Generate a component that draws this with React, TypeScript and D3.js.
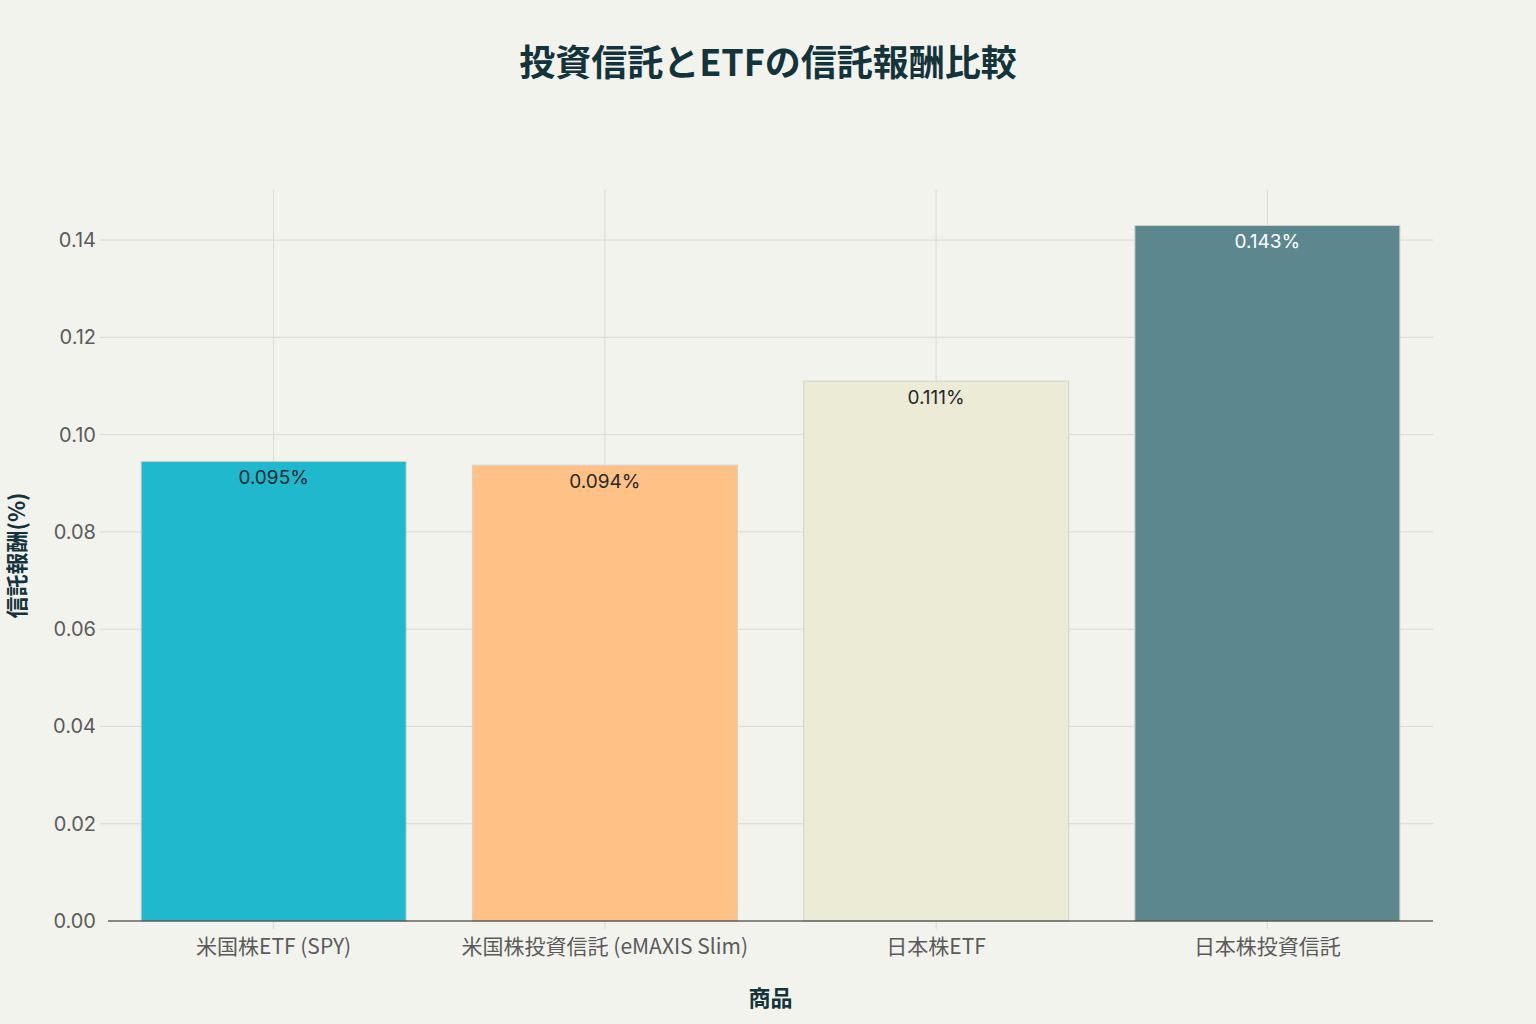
import React, { useEffect, useRef } from "react";
import * as d3 from "d3";

// chart data
const categories = [
  "米国株ETF (SPY)",
  "米国株投資信託 (eMAXIS Slim)",
  "日本株ETF",
  "日本株投資信託",
];
const fees = [0.0945, 0.09372, 0.111, 0.143];
const feeLabels = ["0.095%", "0.094%", "0.111%", "0.143%"];
const barColors = ["#1FB8CD", "#FFC185", "#ECEBD5", "#5D878F"];
const labelColors = ["#1f2a2c", "#1f2a2c", "#1f2a2c", "#ffffff"];
const yTicks = [0, 0.02, 0.04, 0.06, 0.08, 0.1, 0.12, 0.14];

const title = "投資信託とETFの信託報酬比較";
const xTitle = "商品";
const yTitle = "信託報酬(%)";

const dimensions = { width: 1536, height: 1024 };
const margin = { top: 190, right: 103, bottom: 103, left: 108 };

const App = () => {
  const ref = useRef<SVGSVGElement>(null);

  const graph = {
    width: dimensions.width - margin.left - margin.right,
    height: dimensions.height - margin.top - margin.bottom,
  };

  useEffect(() => {
    document.body.style.margin = "0";
    const svg = d3.select(ref.current);
    svg.selectAll("*").remove();

    // scales
    const x = d3
      .scaleBand<string>()
      .domain(categories)
      .range([0, graph.width])
      .paddingInner(0.2)
      .paddingOuter(0.1);
    const y = d3
      .scaleLinear()
      .domain([0, d3.max(fees) * 1.051])
      .range([graph.height, 0]);

    svg
      .append("rect")
      .attr("width", dimensions.width)
      .attr("height", dimensions.height)
      .attr("fill", "#F3F3EE");

    const g = svg
      .append("g")
      .attr("transform", `translate(${margin.left}, ${margin.top})`);

    // horizontal grid
    g.selectAll(".hgrid")
      .data(yTicks.filter((d) => d > 0))
      .enter()
      .append("line")
      .attr("x1", -8)
      .attr("x2", graph.width)
      .attr("y1", (d) => y(d))
      .attr("y2", (d) => y(d))
      .attr("stroke", "#D9D9D4")
      .attr("stroke-width", 1);

    // vertical grid
    g.selectAll(".vgrid")
      .data(categories)
      .enter()
      .append("line")
      .attr("x1", (d) => x(d) + x.bandwidth() / 2)
      .attr("x2", (d) => x(d) + x.bandwidth() / 2)
      .attr("y1", 0)
      .attr("y2", graph.height + 8)
      .attr("stroke", "#D9D9D4")
      .attr("stroke-width", 1);

    // bars
    g.selectAll(".bar")
      .data(categories)
      .enter()
      .append("rect")
      .attr("x", (d) => x(d))
      .attr("width", x.bandwidth())
      .attr("y", (d, i) => y(fees[i]))
      .attr("height", (d, i) => graph.height - y(fees[i]))
      .attr("fill", (d, i) => barColors[i])
      .attr("stroke", "#D2D2C8")
      .attr("stroke-width", 1);

    // bar labels
    g.selectAll(".label")
      .data(categories)
      .enter()
      .append("text")
      .attr("x", (d) => x(d) + x.bandwidth() / 2)
      .attr("y", (d, i) => y(fees[i]) + 23)
      .attr("text-anchor", "middle")
      .attr("font-family", "Inter, 'Noto Sans', sans-serif")
      .attr("font-size", 19)
      .attr("fill", (d, i) => labelColors[i])
      .text((d, i) => feeLabels[i]);

    // zero line
    g.append("line")
      .attr("x1", 0)
      .attr("x2", graph.width)
      .attr("y1", y(0))
      .attr("y2", y(0))
      .attr("stroke", "#1e1e1e")
      .attr("stroke-width", 1.2);

    // y tick labels
    g.selectAll(".ytick")
      .data(yTicks)
      .enter()
      .append("text")
      .attr("x", -12)
      .attr("y", (d) => y(d))
      .attr("dy", "0.35em")
      .attr("text-anchor", "end")
      .attr("font-family", "Inter, 'Noto Sans', sans-serif")
      .attr("font-size", 20)
      .attr("fill", "#5b5b5b")
      .text((d) => d3.format(".2f")(d));

    // x tick labels
    g.selectAll(".xtick")
      .data(categories)
      .enter()
      .append("text")
      .attr("x", (d) => x(d) + x.bandwidth() / 2)
      .attr("y", graph.height + 33)
      .attr("text-anchor", "middle")
      .attr("font-family", "'Noto Sans CJK JP', sans-serif")
      .attr("font-size", 21)
      .attr("fill", "#5b5b5b")
      .text((d) => d);

    // titles
    svg
      .append("text")
      .attr("x", 768)
      .attr("y", 76)
      .attr("text-anchor", "middle")
      .attr("font-family", "'Noto Sans CJK JP', sans-serif")
      .attr("font-weight", "bold")
      .attr("font-size", 36)
      .attr("fill", "#13343B")
      .text(title);

    svg
      .append("text")
      .attr("x", margin.left + graph.width / 2)
      .attr("y", 1006)
      .attr("text-anchor", "middle")
      .attr("font-family", "'Noto Sans CJK JP', sans-serif")
      .attr("font-weight", "bold")
      .attr("font-size", 22)
      .attr("fill", "#13343B")
      .text(xTitle);

    svg
      .append("text")
      .attr("transform", `translate(25, ${margin.top + graph.height / 2}) rotate(-90)`)
      .attr("text-anchor", "middle")
      .attr("font-family", "'Noto Sans CJK JP', sans-serif")
      .attr("font-weight", "bold")
      .attr("font-size", 22)
      .attr("fill", "#13343B")
      .text(yTitle);
  }, []);

  return (
    <svg
      ref={ref}
      width={dimensions.width}
      height={dimensions.height}
      style={{ display: "block" }}
    />
  );
};

export default App;
